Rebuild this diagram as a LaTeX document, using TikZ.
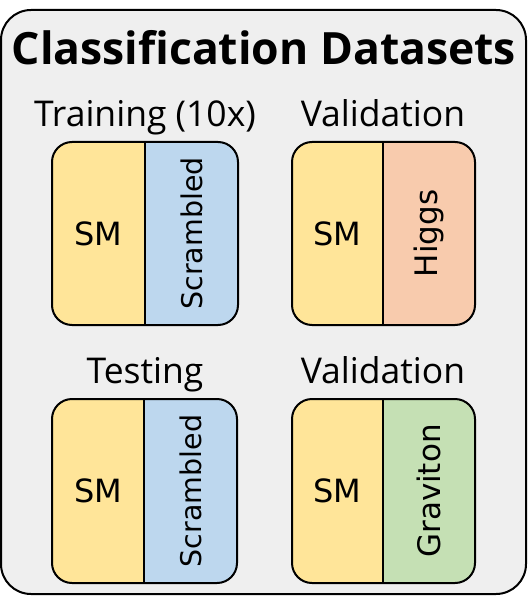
\documentclass[tikz,border=0pt]{standalone}
\usepackage{fontspec}
\setmainfont{Open Sans}
\newfontfamily\dvfont{DejaVu Sans}
\definecolor{bgc}{HTML}{EFEFEF}
\definecolor{smc}{HTML}{FFE599}
\definecolor{scrc}{HTML}{BDD7EE}
\definecolor{higc}{HTML}{F8CBAD}
\definecolor{grvc}{HTML}{C5E0B4}
\tikzset{
  outline/.style={line width=2pt, rounded corners=30pt},
  dbox/.style={line width=2pt, rounded corners=20pt},
  divider/.style={line width=2pt},
  head/.style={font=\fontsize{35.5}{35.5}\selectfont, anchor=base, inner sep=0pt},
  title/.style={font=\fontsize{44.5}{44.5}\selectfont\bfseries, anchor=base, inner sep=0pt},
  smlabel/.style={font=\dvfont\fontsize{32}{32}\selectfont, inner sep=0pt},
  sidelabel/.style={font=\dvfont\fontsize{#1}{#1}\selectfont, inner sep=0pt, rotate=90},
}
\newcommand{\databox}[9]{%
  % #1 x0, #2 y0, #3 x1, #4 y1, #5 xdiv, #6 colour, #7 side text, #8 name, #9 side font size
  \begin{scope}
    \clip[rounded corners=20pt] (#1,#2) rectangle (#3,#4);
    \fill[smc] (#1,#2) rectangle (#5,#4);
    \fill[#6] (#5,#2) rectangle (#3,#4);
  \end{scope}
  \draw[dbox] (#1,#2) rectangle (#3,#4);
  \coordinate (#8top) at (#5,#2);
  \coordinate (#8bot) at (#5,#4);
  \draw[divider] (#8top) -- (#8bot);
  \node[smlabel] (#8sm) at ({(#1+#5)/2},{(#2+#4)/2}) {SM};
  \node[sidelabel=#9] (#8side) at ({(#5+#3)/2},{(#2+#4)/2}) {#7};
}
\begin{document}
\begin{tikzpicture}[x=1pt,y=-1pt]
\useasboundingbox (0,0) rectangle (528,596);
\draw[outline, fill=bgc] (1,10) rectangle (526,594);
\node[title] (ttl) at (264,65) {Classification Datasets};
\node[head] (htrain) at (145,127) {Training (10x)};
\node[head] (hval1) at (383,127) {Validation};
\node[head] (htest) at (145,383) {Testing};
\node[head] (hval2) at (383,383) {Validation};
\databox{52}{142}{238}{325}{145}{scrc}{Scrambled}{b1}{28.5}
\databox{292}{142}{475}{325}{383}{higc}{Higgs}{b2}{31}
\databox{52}{399}{237}{583}{144}{scrc}{Scrambled}{b3}{28.5}
\databox{292}{399}{475}{583}{383}{grvc}{Graviton}{b4}{31}
\end{tikzpicture}
\end{document}
